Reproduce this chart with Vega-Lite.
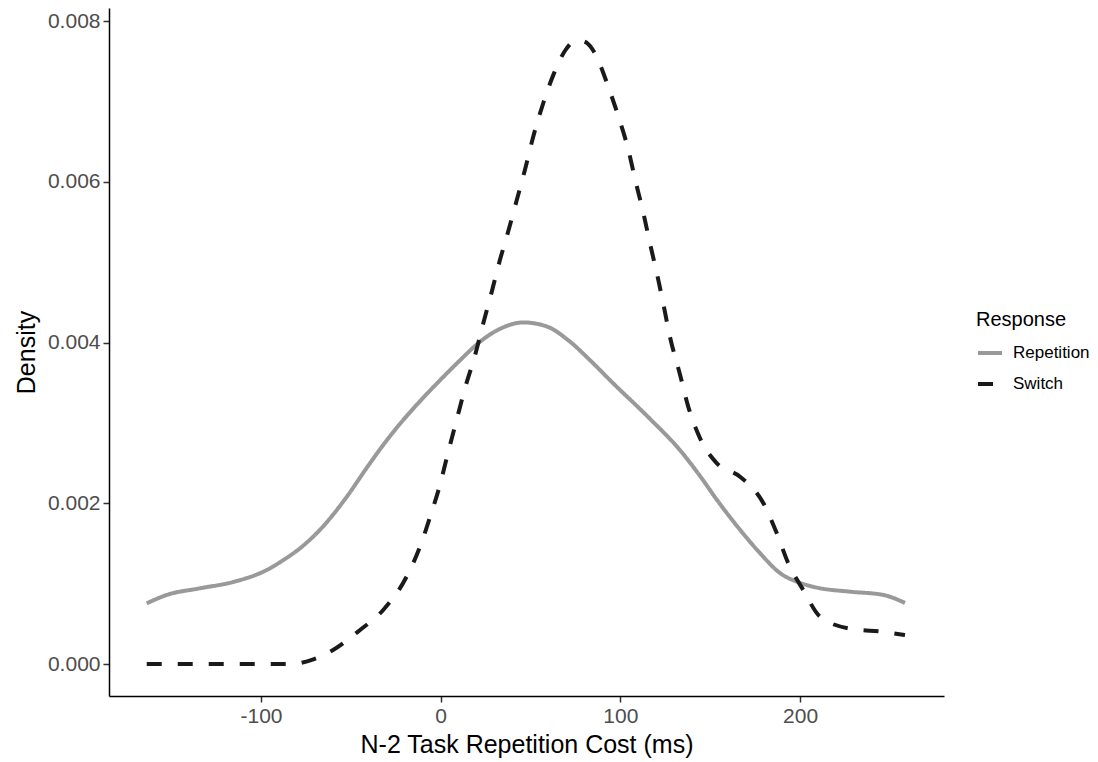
{
  "$schema": "https://vega.github.io/schema/vega-lite/v6.json",
  "width": 835,
  "height": 688,
  "autosize": "none",
  "padding": {"left": 109, "top": 8, "right": 154, "bottom": 66},
  "background": "white",
  "config": {
    "view": {"stroke": null},
    "font": "Liberation Sans",
    "axis": {
      "grid": false,
      "domainColor": "#000000",
      "domainWidth": 1.5,
      "tickColor": "#333333",
      "tickWidth": 1.5,
      "tickSize": 6,
      "labelColor": "#4D4D4D",
      "labelFont": "Liberation Sans",
      "labelFontSize": 21,
      "titleFont": "Liberation Sans",
      "titleFontSize": 25,
      "titleFontWeight": "normal",
      "titleColor": "#000000"
    }
  },
  "data": {
    "values": [
      {"x": -163.6, "density": 0.000755, "Response": "Repetition"},
      {"x": -152.5, "density": 0.000859, "Response": "Repetition"},
      {"x": -134.0, "density": 0.000942, "Response": "Repetition"},
      {"x": -115.6, "density": 0.00102, "Response": "Repetition"},
      {"x": -96.8, "density": 0.00117, "Response": "Repetition"},
      {"x": -87.8, "density": 0.00129, "Response": "Repetition"},
      {"x": -78.3, "density": 0.00144, "Response": "Repetition"},
      {"x": -67.2, "density": 0.00167, "Response": "Repetition"},
      {"x": -52.3, "density": 0.00208, "Response": "Repetition"},
      {"x": -41.2, "density": 0.00244, "Response": "Repetition"},
      {"x": -31.5, "density": 0.00274, "Response": "Repetition"},
      {"x": -22.6, "density": 0.00299, "Response": "Repetition"},
      {"x": -11.5, "density": 0.00327, "Response": "Repetition"},
      {"x": -0.4, "density": 0.00353, "Response": "Repetition"},
      {"x": 10.8, "density": 0.00378, "Response": "Repetition"},
      {"x": 21.9, "density": 0.00401, "Response": "Repetition"},
      {"x": 33.0, "density": 0.00417, "Response": "Repetition"},
      {"x": 46.0, "density": 0.00425, "Response": "Repetition"},
      {"x": 59.0, "density": 0.0042, "Response": "Repetition"},
      {"x": 72.0, "density": 0.00401, "Response": "Repetition"},
      {"x": 83.1, "density": 0.00378, "Response": "Repetition"},
      {"x": 96.1, "density": 0.00349, "Response": "Repetition"},
      {"x": 116.5, "density": 0.00305, "Response": "Repetition"},
      {"x": 133.2, "density": 0.00266, "Response": "Repetition"},
      {"x": 144.3, "density": 0.00234, "Response": "Repetition"},
      {"x": 153.8, "density": 0.00204, "Response": "Repetition"},
      {"x": 166.6, "density": 0.00167, "Response": "Repetition"},
      {"x": 177.7, "density": 0.00138, "Response": "Repetition"},
      {"x": 188.9, "density": 0.00113, "Response": "Repetition"},
      {"x": 200.0, "density": 0.00101, "Response": "Repetition"},
      {"x": 209.5, "density": 0.00095, "Response": "Repetition"},
      {"x": 227.8, "density": 0.0009, "Response": "Repetition"},
      {"x": 246.2, "density": 0.00086, "Response": "Repetition"},
      {"x": 258.4, "density": 0.00076, "Response": "Repetition"},
      {"x": -163.6, "density": 0.0, "Response": "Switch"},
      {"x": -83.9, "density": 0.0, "Response": "Switch"},
      {"x": -70.9, "density": 0.000058, "Response": "Switch"},
      {"x": -59.9, "density": 0.000174, "Response": "Switch"},
      {"x": -44.9, "density": 0.000423, "Response": "Switch"},
      {"x": -32.0, "density": 0.000672, "Response": "Switch"},
      {"x": -18.9, "density": 0.00109, "Response": "Switch"},
      {"x": -11.5, "density": 0.00146, "Response": "Switch"},
      {"x": -5.9, "density": 0.00183, "Response": "Switch"},
      {"x": -0.4, "density": 0.00223, "Response": "Switch"},
      {"x": 4.2, "density": 0.00264, "Response": "Switch"},
      {"x": 8.9, "density": 0.00304, "Response": "Switch"},
      {"x": 13.5, "density": 0.00343, "Response": "Switch"},
      {"x": 19.1, "density": 0.00384, "Response": "Switch"},
      {"x": 23.7, "density": 0.00424, "Response": "Switch"},
      {"x": 28.4, "density": 0.00463, "Response": "Switch"},
      {"x": 33.0, "density": 0.00503, "Response": "Switch"},
      {"x": 36.8, "density": 0.00532, "Response": "Switch"},
      {"x": 42.3, "density": 0.00577, "Response": "Switch"},
      {"x": 46.9, "density": 0.00615, "Response": "Switch"},
      {"x": 51.6, "density": 0.00657, "Response": "Switch"},
      {"x": 57.1, "density": 0.00698, "Response": "Switch"},
      {"x": 62.7, "density": 0.00733, "Response": "Switch"},
      {"x": 70.1, "density": 0.00766, "Response": "Switch"},
      {"x": 73.8, "density": 0.00774, "Response": "Switch"},
      {"x": 78.7, "density": 0.00775, "Response": "Switch"},
      {"x": 84.1, "density": 0.00766, "Response": "Switch"},
      {"x": 87.7, "density": 0.00751, "Response": "Switch"},
      {"x": 93.3, "density": 0.00718, "Response": "Switch"},
      {"x": 98.9, "density": 0.00681, "Response": "Switch"},
      {"x": 104.4, "density": 0.0064, "Response": "Switch"},
      {"x": 108.2, "density": 0.00603, "Response": "Switch"},
      {"x": 112.8, "density": 0.00561, "Response": "Switch"},
      {"x": 116.5, "density": 0.00523, "Response": "Switch"},
      {"x": 121.1, "density": 0.00478, "Response": "Switch"},
      {"x": 123.9, "density": 0.00448, "Response": "Switch"},
      {"x": 127.6, "density": 0.00407, "Response": "Switch"},
      {"x": 133.2, "density": 0.00360, "Response": "Switch"},
      {"x": 137.8, "density": 0.0032, "Response": "Switch"},
      {"x": 144.3, "density": 0.00281, "Response": "Switch"},
      {"x": 153.6, "density": 0.0025, "Response": "Switch"},
      {"x": 166.6, "density": 0.00233, "Response": "Switch"},
      {"x": 179.6, "density": 0.002, "Response": "Switch"},
      {"x": 187.0, "density": 0.00163, "Response": "Switch"},
      {"x": 193.5, "density": 0.00125, "Response": "Switch"},
      {"x": 201.8, "density": 0.00092, "Response": "Switch"},
      {"x": 211.1, "density": 0.00059, "Response": "Switch"},
      {"x": 227.8, "density": 0.00044, "Response": "Switch"},
      {"x": 246.4, "density": 0.0004, "Response": "Switch"},
      {"x": 258.4, "density": 0.00036, "Response": "Switch"}
    ]
  },
  "mark": {"type": "line", "strokeWidth": 4, "interpolate": "monotone", "strokeCap": "butt"},
  "encoding": {
    "x": {
      "field": "x",
      "type": "quantitative",
      "title": "N-2 Task Repetition Cost (ms)",
      "scale": {"domain": [-184.6, 280.1], "nice": false, "zero": false},
      "axis": {
        "values": [-100, 0, 100, 200],
        "labelPadding": 3,
        "titlePadding": 6,
        "labelExpr": "datum.value < 0 ? '-' + abs(datum.value) : '' + datum.value"
      }
    },
    "y": {
      "field": "density",
      "type": "quantitative",
      "title": "Density",
      "scale": {"domain": [-0.000398, 0.008162], "nice": false, "zero": false},
      "axis": {"values": [0, 0.002, 0.004, 0.006, 0.008], "format": ".3f", "labelPadding": 3, "titlePadding": 8}
    },
    "color": {
      "field": "Response",
      "type": "nominal",
      "title": "Response",
      "scale": {"domain": ["Repetition", "Switch"], "range": ["#999999", "#1A1A1A"]},
      "legend": {
        "orient": "none",
        "legendX": 867,
        "legendY": 302,
        "titleFontSize": 20,
        "titleFontWeight": "normal",
        "titleColor": "#000000",
        "labelFontSize": 17,
        "labelColor": "#000000",
        "symbolType": "stroke",
        "symbolSize": 576,
        "symbolStrokeWidth": 4,
        "rowPadding": 9,
        "labelOffset": 9,
        "titlePadding": 9
      }
    },
    "strokeDash": {
      "field": "Response",
      "type": "nominal",
      "title": "Response",
      "scale": {"domain": ["Repetition", "Switch"], "range": [[1, 0], [15, 16]]}
    }
  }
}
